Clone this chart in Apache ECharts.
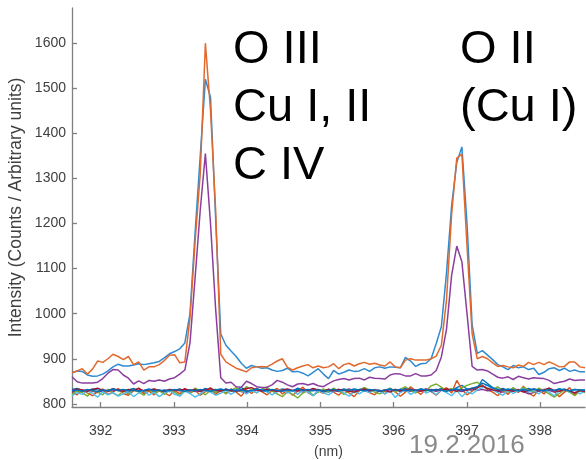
<!DOCTYPE html>
<html>
<head>
<meta charset="utf-8">
<script src="https://cdn.jsdelivr.net/npm/echarts@6/dist/echarts.min.js"></script>
<style>
html,body{margin:0;padding:0;background:#fff;}
#c{width:586px;height:460px;}
</style>
</head>
<body>
<div id="c"></div>
<script>
// wavelength sampling (nm)
const wlStart = 391.61;
const wlStep = 0.07;
const nPts = 101;
const wavelengths = Array.from({length: nPts}, (_, i) => +(wlStart + wlStep * i).toFixed(2));

const xTicks = [392, 393, 394, 395, 396, 397, 398];
const yTicks = [800, 900, 1000, 1100, 1200, 1300, 1400, 1500, 1600];

// elevated spectra
const spBlue = [
869,873,872,864,861,862,866,873,882,888,
884,884,886,889,887,889,891,894,902,911,
916,922,935,1000,1180,1350,1520,1480,1210,955,
930,917,905,890,879,885,882,879,880,875,
872,874,879,871,872,868,862,870,878,866,
856,874,866,870,875,872,873,878,872,880,
882,879,882,881,880,903,895,883,889,890,
900,934,971,1090,1240,1335,1370,1200,975,912,
918,908,898,887,882,876,885,880,882,876,
879,865,870,878,880,874,879,872,875,871,
871];
const spOrange = [
869,873,878,866,877,895,892,900,910,905,
898,905,887,893,875,882,882,887,896,908,
909,891,893,990,1160,1310,1600,1450,1230,910,
893,886,879,875,871,880,882,883,882,888,
895,900,881,875,880,884,887,880,884,880,
882,889,878,887,890,884,889,892,888,890,
886,884,893,882,880,897,900,897,897,897,
900,906,930,1030,1220,1345,1354,1150,955,900,
905,900,891,883,885,882,880,886,883,892,
887,892,887,893,888,882,883,893,893,882,
880];
const spPurple = [
860,849,846,846,846,848,856,868,876,875,
864,857,844,851,845,852,850,853,850,855,
858,866,875,935,1080,1230,1355,1200,1010,858,
846,848,838,837,850,845,838,836,837,842,
852,848,842,838,844,845,842,845,840,838,
845,851,854,856,853,856,857,853,859,857,
856,855,864,867,866,862,862,867,862,862,
864,874,904,965,1085,1150,1115,1000,883,875,
876,873,866,859,857,860,854,861,858,855,
858,857,856,852,845,848,850,855,852,853,
853];

// baseline spectra
const bl1 = [
832,834,830,829,833,831,828,830,833,829,
827,831,834,829,826,830,832,828,831,829,
830,833,828,831,827,829,834,830,832,828,
833,829,831,836,830,828,832,829,827,831,
829,833,830,828,835,831,827,830,832,829,
826,831,829,833,830,828,832,835,829,831,
830,828,833,829,832,834,830,828,831,829,
832,830,834,831,829,836,841,833,830,835,
854,845,836,832,834,830,833,831,829,834,
830,832,828,831,829,833,830,828,832,830,
831];
const bl2 = [
826,820,831,824,818,827,833,821,826,834,
823,819,829,835,822,828,820,831,825,818,
830,822,834,824,830,819,827,836,821,829,
824,833,826,817,831,823,835,827,820,829,
834,822,830,819,828,837,825,818,829,823,
833,826,819,831,824,816,829,836,825,820,
830,822,834,827,817,826,838,829,821,833,
827,819,830,836,824,852,832,820,828,837,
842,831,826,818,830,821,834,825,839,824,
817,831,822,835,827,816,826,836,820,830,
826];
const bl3 = [
826,829,827,831,828,825,830,827,829,832,
828,826,830,827,829,831,826,828,830,827,
829,832,828,826,830,827,831,828,826,829,
832,828,830,827,825,829,831,828,833,830,
827,829,832,828,830,826,829,831,828,830,
832,829,827,830,833,828,831,829,826,830,
828,831,829,832,827,830,828,831,829,833,
830,828,831,829,832,830,827,831,834,830,
832,829,831,828,826,830,829,832,827,822,
825,829,827,830,826,828,831,827,825,829,
827];
const bl4 = [
821,829,825,817,830,826,820,832,824,818,
829,822,831,826,819,832,823,829,821,830,
826,818,831,823,835,828,820,830,825,833,
822,830,836,827,838,831,824,833,837,828,
822,816,827,821,813,824,830,819,826,833,
827,835,829,821,831,825,829,836,831,826,
822,829,835,826,832,838,830,824,834,828,
840,844,837,829,834,827,836,841,845,848,
840,835,831,838,829,826,836,828,837,831,
826,835,829,822,815,823,831,826,818,829,
825];
const bl5 = [
818,825,821,829,823,815,827,820,825,817,
822,828,816,824,830,819,826,816,824,830,
821,817,828,823,815,822,830,826,819,824,
830,821,828,833,822,829,825,832,827,820,
827,833,824,829,821,831,826,818,829,825,
820,827,833,824,817,828,822,830,825,832,
827,822,829,814,825,832,821,827,833,824,
829,820,831,825,818,830,816,827,822,831,
836,842,831,825,819,830,823,829,834,826,
831,822,833,826,818,829,834,825,831,822,
828];
const bl6 = [
830,833,831,828,832,835,830,829,833,831,
828,832,830,834,829,831,833,830,828,832,
831,829,833,830,832,828,831,834,830,829,
832,830,828,831,834,836,831,829,832,830,
828,831,833,830,829,832,830,834,831,828,
831,829,832,830,828,826,830,833,829,831,
828,830,826,832,829,831,833,830,828,831,
829,832,830,833,831,828,832,830,834,836,
840,834,831,829,832,830,828,831,826,830,
833,829,831,835,830,828,832,829,824,830,
827];
const bl7 = [
829,831,828,832,830,827,831,829,833,830,
832,829,831,828,830,833,829,831,828,830,
832,830,828,831,829,832,830,828,831,833,
830,832,829,831,828,830,833,831,829,832,
830,828,831,829,833,830,832,829,831,828,
830,832,829,831,830,833,831,829,832,830,
828,831,833,830,832,829,831,830,833,831,
829,832,830,828,831,833,830,832,835,838,
846,841,835,832,830,833,831,829,832,830,
833,831,829,832,830,833,831,829,832,831,
830];

const labelsLeft = ['O III', 'Cu I, II', 'C IV'];
const labelsRight = ['O II', '(Cu I)'];
const dateText = '19.2.2016';

const FONT = 'Liberation Sans, Arial, Helvetica, sans-serif';

function mk(name, arr, color, w) {
  return {
    name: name, type: 'line', showSymbol: false, symbol: 'none',
    lineStyle: {color: color, width: w}, itemStyle: {color: color},
    data: arr.map((v, i) => [wavelengths[i], v]),
    z: 2
  };
}

const series = [
  mk('b1', bl1, '#0072BD', 1.4),
  mk('b2', bl2, '#D95319', 1.4),
  mk('b3', bl3, '#7E2F8E', 1.4),
  mk('b4', bl4, '#77AC30', 1.4),
  mk('b5', bl5, '#4DBEEE', 1.4),
  mk('b6', bl6, '#A2142F', 1.4),
  mk('b7', bl7, '#0072BD', 1.4),
  mk('blue', spBlue, '#2F8AD0', 1.5),
  mk('orange', spOrange, '#E2692E', 1.5),
  mk('purple', spPurple, '#8B3E9E', 1.5)
];

const gtexts = [];
labelsLeft.forEach((t, k) => gtexts.push({
  type: 'text', left: 233, top: 27 + 58 * k,
  style: {text: t, font: '47px ' + FONT, fill: '#000'}
}));
labelsRight.forEach((t, k) => gtexts.push({
  type: 'text', left: 460, top: 27 + 58 * k,
  style: {text: t, font: '47px ' + FONT, fill: '#000'}
}));
gtexts.push({
  type: 'text', left: 409, top: 433,
  style: {text: dateText, font: '26px ' + FONT, fill: '#8a8a8a'}
});

const chart = echarts.init(document.getElementById('c'), null, {renderer: 'canvas'});
chart.setOption({
  animation: false,
  backgroundColor: '#ffffff',
  grid: {left: 72, right: 1, top: 8, bottom: 53, containLabel: false, outerBoundsMode: 'none'},
  xAxis: {
    type: 'value', min: 391.61, max: 398.61,
    name: '(nm)', nameLocation: 'middle', nameGap: 38, nameMoveOverlap: false,
    nameTextStyle: {fontSize: 14, color: '#404040', fontFamily: FONT},
    axisLine: {show: true, lineStyle: {color: '#808080', width: 1.3}},
    axisTick: {show: true, inside: true, length: 5, customValues: xTicks, lineStyle: {color: '#808080', width: 1.3}},
    axisLabel: {show: true, customValues: xTicks, margin: 17, fontSize: 14, color: '#404040', fontFamily: FONT,
      formatter: v => String(v)},
    splitLine: {show: false}
  },
  yAxis: {
    type: 'value', min: 793, max: 1678,
    name: 'Intensity (Counts / Arbitrary units)', nameLocation: 'middle', nameGap: 47, nameRotate: 90, nameMoveOverlap: false,
    nameTextStyle: {fontSize: 17.5, color: '#404040', fontFamily: FONT},
    axisLine: {show: true, lineStyle: {color: '#808080', width: 1.3}},
    axisTick: {show: true, inside: true, length: 5, customValues: yTicks, lineStyle: {color: '#808080', width: 1.3}},
    axisLabel: {show: true, customValues: yTicks, margin: 6, fontSize: 14, color: '#404040', fontFamily: FONT,
      formatter: v => String(v)},
    splitLine: {show: false}
  },
  series: series,
  graphic: gtexts
});
</script>
</body>
</html>
